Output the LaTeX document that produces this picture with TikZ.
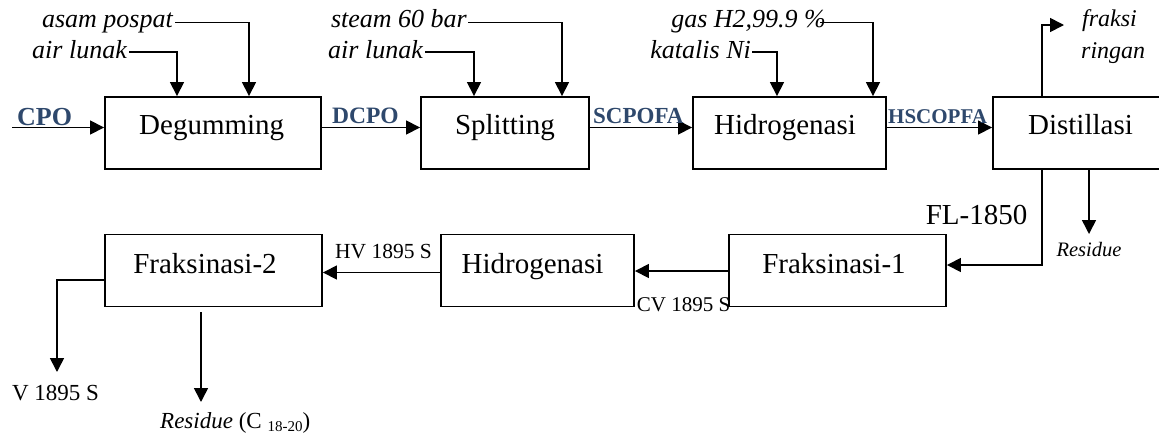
\documentclass[tikz,border=0pt]{standalone}
\usepackage{fontspec}
\setmainfont{Liberation Serif}
\usetikzlibrary{arrows.meta}
\definecolor{lblblue}{RGB}{46,72,108}
\tikzset{
  box/.style={draw, line width=1.9pt, minimum width=#1, minimum height=72pt, inner sep=0pt, anchor=center},
  btxt/.style={font=\fontsize{29}{29}\selectfont, inner sep=0pt, anchor=base},
  inp/.style={font=\fontsize{26}{26}\selectfont\itshape, inner sep=0pt, anchor=base east},
  flw/.style={font=\fontsize{#1}{#1}\selectfont\bfseries, text=lblblue, inner sep=0pt, anchor=base west},
  lbl/.style={font=\fontsize{#1}{#1}\selectfont, inner sep=0pt, anchor=base},
  arr/.style={line width=1.6pt, -{Triangle[length=14pt,width=14pt]}},
  ln/.style={line width=1.6pt}
}
\begin{document}
\begin{tikzpicture}[x=1pt,y=-1pt]
\useasboundingbox (0,0) rectangle (1159,437);
% process boxes
\node[box=216] (deg) at (213,133) {};
\node[box=168] (spl) at (505,133) {};
\node[box=193] (hyd1) at (789.5,133) {};
\node[box=182] (dis) at (1084,133) {};
\node[box=217] (fr2) at (213.5,270.5) {};
\node[box=193] (hyd2) at (537.5,270.5) {};
\node[box=217] (fr1) at (837.5,270.5) {};
% box texts
\node[btxt] (degt) at (211.7,134.5) {Degumming};
\node[btxt] (splt) at (505,134.5) {Splitting};
\node[btxt] (hyd1t) at (785,134.5) {Hidrogenasi};
\node[btxt] (dist) at (1080.5,134.5) {Distillasi};
\node[btxt] (fr2t) at (205,273) {Fraksinasi-2};
\node[btxt] (hyd2t) at (532.5,273) {Hidrogenasi};
\node[btxt] (fr1t) at (834,273) {Fraksinasi-1};
% helper coordinates
\coordinate (yA) at (0,22.5);
\coordinate (yB) at (0,52);
\coordinate (yM) at (0,127.5);
\coordinate (yF) at (0,265);
\coordinate (yC) at (0,271);
\coordinate (yH) at (0,272.5);
\coordinate (yV) at (0,280);
\coordinate (xd1) at (177,0);
\coordinate (xd2) at (249,0);
\coordinate (xs1) at (474,0);
\coordinate (xs2) at (562,0);
\coordinate (xh1) at (777,0);
\coordinate (xh2) at (873,0);
\coordinate (xdo) at (1042,0);
\coordinate (xres) at (1089,0);
\coordinate (cpo0) at (12,127.5);
\coordinate (frtip) at (1064,25);
\coordinate (restip) at (1089,234);
\coordinate (vtip) at (57,372);
\coordinate (r2top) at (201,312);
\coordinate (r2tip) at (201,402);
% main flow (top row)
\draw[arr] (cpo0) -- (cpo0 -| deg.west);
\draw[arr] (deg.east |- yM) -- (spl.west |- yM);
\draw[arr] (spl.east |- yM) -- (hyd1.west |- yM);
\draw[arr] (hyd1.east |- yM) -- (dis.west |- yM);
\node[flw=26] (cpo) at (17,125) {CPO};
\node[flw=23.5] (dcpo) at (332,123) {DCPO};
\node[flw=23] (scpofa) at (593,123) {SCPOFA};
\node[flw=21] (hscopfa) at (888,123) {HSCOPFA};
% inputs
\node[inp] (ap) at (173,27) {asam pospat};
\node[inp] (al1) at (127,58.5) {air lunak};
\node[inp] (st) at (467,27) {steam 60 bar};
\node[inp] (al2) at (423,58.5) {air lunak};
\node[inp] (gas) at (826,27) {gas H2,99.9 \%};
\node[inp] (kat) at (751,58.5) {katalis Ni};
\draw[arr] ([xshift=2pt]ap.east |- yA) -| (xd2 |- deg.north);
\draw[arr] ([xshift=2pt]al1.east |- yB) -| (xd1 |- deg.north);
\draw[arr] ([xshift=1pt]st.east |- yA) -| (xs2 |- spl.north);
\draw[arr] ([xshift=2pt]al2.east |- yB) -| (xs1 |- spl.north);
\draw[arr] ([xshift=-6pt]gas.east |- yA) -| (xh2 |- hyd1.north);
\draw[arr] ([xshift=1pt]kat.east |- yB) -| (xh1 |- hyd1.north);
% distillation outputs
\draw[arr] (xdo |- dis.north) |- (frtip);
\node[font=\fontsize{24}{24}\selectfont\itshape, inner sep=0pt, anchor=base west] (fk) at (1082,26.7) {fraksi};
\node[font=\fontsize{24}{24}\selectfont\itshape, inner sep=0pt, anchor=base west] (rg) at (1081,58) {ringan};
\draw[arr] (xdo |- dis.south) |- (fr1.east |- yF);
\draw[arr] (xres |- dis.south) -- (restip);
\node[font=\fontsize{20.5}{20.5}\selectfont\itshape, inner sep=0pt, anchor=base] (res1) at (1089,256.7) {Residue};
\node[lbl=29] (fl) at (976.5,224) {FL-1850};
% bottom row
\draw[arr] (fr1.west |- yC) -- (hyd2.east |- yC);
\node[lbl=21] (cv) at (683.5,311.5) {CV 1895 S};
\draw[arr] (hyd2.west |- yH) -- (fr2.east |- yH);
\node[lbl=21.5] (hv) at (383.5,258) {HV 1895 S};
\draw[arr] (fr2.west |- yV) -| (vtip);
\node[lbl=23] (v) at (55.5,400) {V 1895 S};
\draw[arr] (r2top) -- (r2tip);
\node[font=\fontsize{23}{23}\selectfont, inner sep=0pt, anchor=base west] (res2) at (160,428) {\textit{Residue} (C \raisebox{-3pt}{\fontsize{15}{15}\selectfont 18-20})};
\end{tikzpicture}
\end{document}
